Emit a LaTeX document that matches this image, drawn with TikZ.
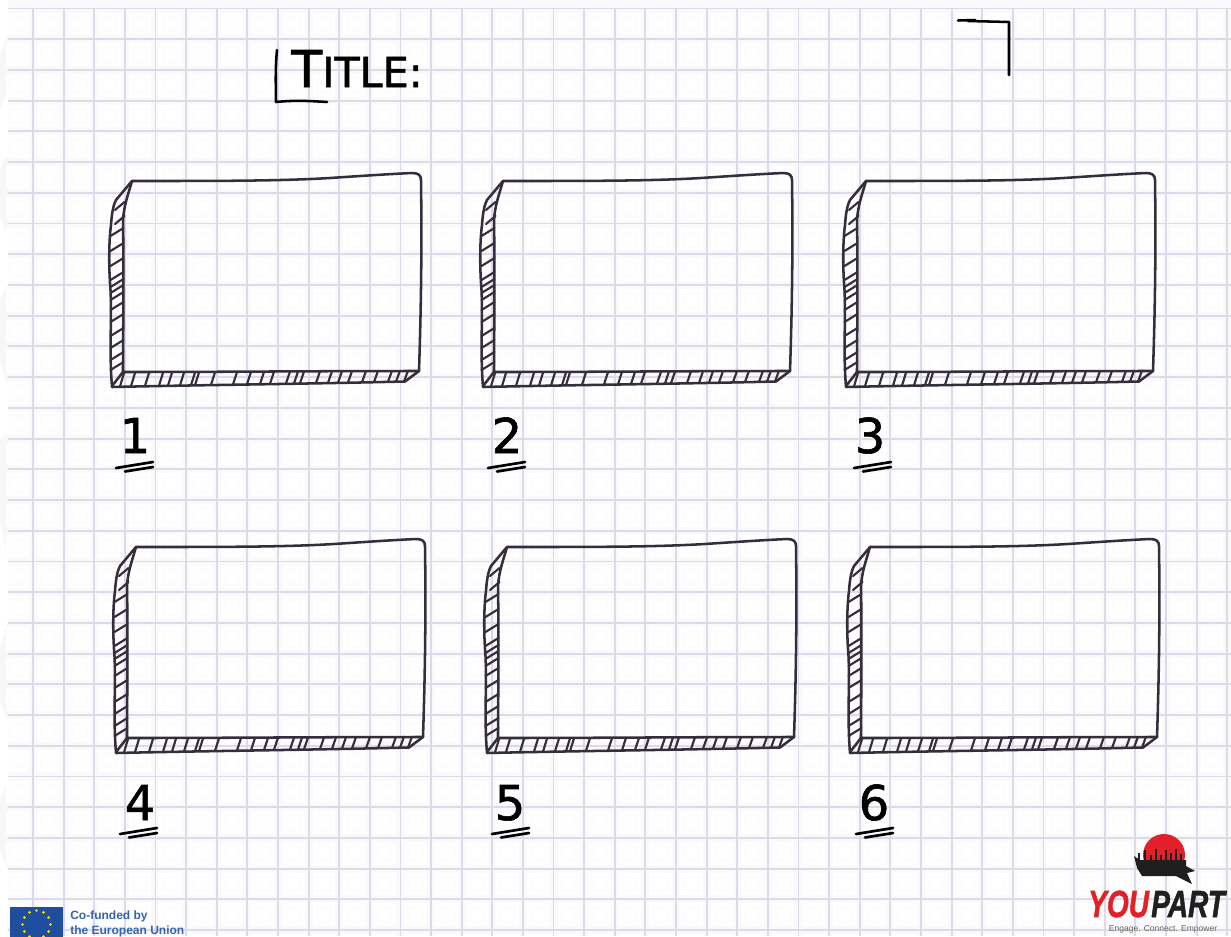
\documentclass[tikz,border=0pt]{standalone}
\usepackage{fontspec}
\setmainfont{DejaVu Sans}
\newfontfamily\handfont[FakeBold=1.3]{DejaVu Sans}
\newfontfamily\eufont{Liberation Sans}
\newfontfamily\logofont[FakeBold=1.5]{Liberation Sans Bold Italic}
\definecolor{gridline}{HTML}{DBDAEB}
\definecolor{cellpale}{HTML}{FAFAFB}
\definecolor{cellmid}{HTML}{FDFDFD}
\definecolor{ink}{HTML}{352C3C}
\definecolor{eublue}{HTML}{1F4E9E}
\definecolor{eutext}{HTML}{3466B0}
\definecolor{sunred}{HTML}{E2202A}
\tikzset{
  gridrule/.style={draw=gridline,line width=1.4pt},
  sketch/.style={draw=ink,line width=1.9pt,line cap=round,line join=round},
  hatchline/.style={draw=ink,line width=1.6pt,line cap=round},
  digit/.style={font=\handfont\fontsize{36}{36}\selectfont,text=black,inner sep=0pt,anchor=base},
  underl/.style={draw=black,line width=2pt,line cap=round},
  logotext/.style={inner sep=0pt,anchor=base west,font=\logofont\fontsize{21}{21}\selectfont}
}
\newcommand{\sketchbox}[2]{%
\begin{scope}[shift={(#1,#2)}]
  \foreach \yy in {206,220,232,247,262,276,283,289,296,306,318,332,344,356,366}
    \draw[hatchline] (\ifdim\yy pt<225pt 115\else 110.5\fi,\yy+4) -- (\ifdim\yy pt<225pt 124.5\else 123.5\fi,\yy-4);
  \foreach \xx in {120,131,145,159,168,180,191,195,211,233,247,260,270,286,294,300,316,328,338,348,362,374,388,396,404}{
    \pgfmathsetmacro{\yb}{386.5-5*(\xx-112)/293}
    \pgfmathsetmacro{\yt}{373-2.5*(\xx-123)/296}
    \draw[hatchline] (\xx,\yb) -- (\xx+4,\yt);
  }
  \draw[sketch] (132,181) .. controls (220,181) and (280,181) .. (330,178)
     .. controls (360,176) and (390,174) .. (412,173)
     .. controls (418,173) and (421,175) .. (421,180)
     .. controls (422,250) and (421,310) .. (419,371)
     -- (405,381.5) .. controls (300,384) and (200,385) .. (112,387)
     .. controls (109,350) and (112,320) .. (110.5,290)
     .. controls (108.5,265) and (109,240) .. (111,225)
     .. controls (112,210) and (114,204) .. (116,200) -- cycle;
  \draw[sketch] (132,181) .. controls (128,195) and (124,205) .. (123,220)
     .. controls (124,280) and (123,340) .. (123,372)
     .. controls (220,372) and (320,371) .. (419,371);
  \draw[sketch] (123,372) -- (112,386);
\end{scope}}
\begin{document}
\begin{tikzpicture}[x=0.75pt,y=-0.75pt]
\useasboundingbox (0,0) rectangle (1231,936);
\clip (0,0) rectangle (1231,936);
\fill[white] (0,0) rectangle (1231,936);
% torn paper edge
\fill[black!3] (0,55) -- (8,32) -- (8,90) -- (0,110) -- cycle;
\fill[black!3] (0,170) -- (8,150) -- (8,240) -- (0,215) -- cycle;
\fill[black!3] (0,300) -- (8,285) -- (8,390) -- (0,360) -- cycle;
\fill[black!3] (0,440) -- (8,430) -- (8,560) -- (0,520) -- cycle;
\fill[black!3] (0,650) -- (8,620) -- (8,720) -- (0,700) -- cycle;
\fill[black!3] (0,800) -- (8,780) -- (8,870) -- (0,850) -- cycle;
\fill[black!2] (8,0) rectangle (1231,8);
% paper cells
\fill[cellpale] (8,8) rectangle (1231,936);
\foreach \i in {-1,...,39}
 \foreach \j in {0,...,30}{
  \pgfmathsetmacro{\cx}{33+30.62*\i}
  \pgfmathsetmacro{\cy}{8.5+30.72*\j}
  \fill[white] (\cx+4,\cy+4) rectangle (\cx+26.6,\cy+26.7);
  \fill[cellmid] (\cx+7,\cy+7) rectangle (\cx+23.6,\cy+23.7);
  \fill[white] (\cx+10,\cy+10) rectangle (\cx+20.6,\cy+20.7);
 }
\foreach \i in {0,...,39}{
  \pgfmathsetmacro{\cx}{33+30.62*\i}
  \draw[gridrule] (\cx,8) -- (\cx,936);
}
\foreach \j in {0,...,30}{
  \pgfmathsetmacro{\cy}{8.5+30.72*\j}
  \draw[gridrule] (8,\cy) -- (1231,\cy);
}
% corners
\draw[sketch,draw=black] (958,20.5) -- (975,20) (968,21) -- (1009,22) -- (1009,75);
\draw[sketch,draw=black] (277,50) .. controls (275,70) and (276,90) .. (276,102) .. controls (295,100) and (310,101) .. (327,102);
% title
\node[inner sep=0pt,anchor=base west,font=\handfont\fontsize{38}{38}\selectfont,text=black] (titlelabel) at (291,87) {T\fontsize{31}{31}\selectfont ITLE:};
% boxes
\sketchbox{0}{0}
\sketchbox{371}{0}
\sketchbox{734}{0}
\sketchbox{4}{366}
\sketchbox{375}{366}
\sketchbox{738}{366}
% numbers
\node[digit] (n1) at (135,453) {1};
\node[digit] (n2) at (507,453) {2};
\node[digit] (n3) at (870,453) {3};
\node[digit] (n4) at (140,820) {4};
\node[digit] (n5) at (510,820) {5};
\node[digit] (n6) at (874,820) {6};
\foreach \dx/\dy in {0/0,372/0,738/0,4/366,376/366,740/366}{
  \begin{scope}[shift={(\dx,\dy)}]
  \draw[underl] (116,468) -- (153,462);
  \draw[underl] (125,471.5) -- (153,467);
  \end{scope}
}
% EU flag
\fill[eublue] (10,907) rectangle (63,942);
\foreach \a in {0,30,...,330}
  \fill[yellow!85!orange] ({36.5+14*cos(\a)},{924.5+14*sin(\a)}) circle (1.4);
\node[inner sep=0pt,anchor=base west,font=\eufont\bfseries\fontsize{9}{9}\selectfont,text=eutext] (eu1) at (70,919) {Co-funded by};
\node[inner sep=0pt,anchor=base west,font=\eufont\bfseries\fontsize{9}{9}\selectfont,text=eutext] (eu2) at (70,934) {the European Union};
% YouPart logo
\fill[sunred] (1164,855) circle (21);
\fill[black!88] (1134,856) -- (1140,860) -- (1186,860) -- (1186,866) -- (1195,871) -- (1187,873) -- (1192,884) -- (1176,876) -- (1142,876) -- (1137,868) -- cycle;
\foreach \sx/\sy in {1139/853,1145/850,1151/855,1156/849,1161/855,1166/850,1171/853,1176/849,1181/854}
  \draw[black!88,line width=1.4pt] (\sx,\sy) -- (\sx,865);
\node[logotext,text=sunred] (you) at (1088,917) {\scalebox{1}[1.35]{YOU}};
\node[logotext,text=black!88] (part) at (1151,917) {\scalebox{1}[1.35]{PART}};
\node[inner sep=0pt,anchor=base,font=\eufont\fontsize{6.4}{6.4}\selectfont,text=black!60] (tagline) at (1163,931) {Engage. Connect. Empower};
\end{tikzpicture}
\end{document}
